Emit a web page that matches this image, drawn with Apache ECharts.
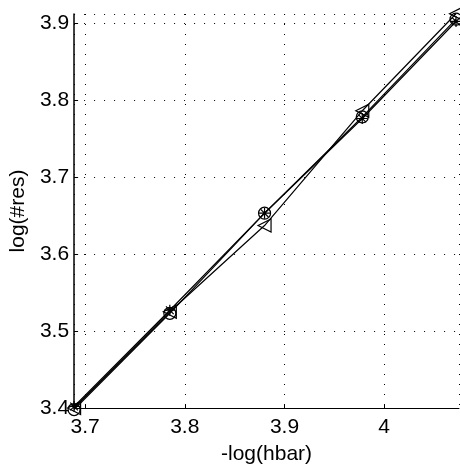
<!DOCTYPE html>
<html>
<head>
<meta charset="utf-8">
<script src="https://cdn.jsdelivr.net/npm/echarts@6/dist/echarts.min.js"></script>
<style>
  html, body { margin: 0; padding: 0; background: #fff; }
  #chart { width: 460px; height: 475px; }
</style>
</head>
<body>
<div id="chart"></div>
<script>
// -log(hbar) sample positions
const xValues = [3.689, 3.785, 3.880, 3.978, 4.072];

// log(#res) for each run
const circleRun   = [3.398, 3.523, 3.653, 3.778, 3.905];
const asteriskRun = [3.402, 3.527, 3.653, 3.776, 3.902];
const triangleRun = [3.400, 3.525, 3.637, 3.786, 3.912];

const xRange = [3.689, 4.075];
const yRange = [3.4, 3.9117];

const FONT = 'Liberation Sans, Arial, Helvetica, sans-serif';

const asteriskPath = 'path://M0,5L10,5M5,0L5,10M1.5,1.5L8.5,8.5M8.5,1.5L1.5,8.5';
const trianglePath = 'path://M0,5L10,0L10,10Z';

function pairs(ys) { return xValues.map((x, i) => [x, ys[i]]); }

function run(name, ys, symbol, size) {
  return {
    name: name,
    type: 'line',
    data: pairs(ys),
    symbol: symbol,
    symbolSize: size,
    showAllSymbol: true,
    clip: false,
    lineStyle: { color: '#000', width: 1.2 },
    itemStyle: { color: 'none', borderColor: '#000', borderWidth: 1.2 },
    animation: false
  };
}

const dotted = { color: '#000', width: 1, type: [1, 9] };

const chart = echarts.init(document.getElementById('chart'), null, { renderer: 'canvas' });
chart.setOption({
  backgroundColor: '#fff',
  animation: false,
  grid: { left: 73, right: 1, top: 14, bottom: 67, containLabel: false },
  xAxis: {
    type: 'value',
    min: xRange[0],
    max: xRange[1],
    splitNumber: 4,
    name: '-log(hbar)',
    nameLocation: 'middle',
    nameGap: 36,
    nameTextStyle: { color: '#000', fontFamily: FONT, fontSize: 21 },
    axisLine: { show: true, lineStyle: { color: '#000', width: 1 } },
    axisTick: { show: true, inside: true, length: 4, lineStyle: { color: '#000' } },
    axisLabel: { color: '#000', fontFamily: FONT, fontSize: 21, margin: 9,
                 showMinLabel: false, showMaxLabel: false },
    splitLine: { show: true, lineStyle: dotted }
  },
  yAxis: {
    type: 'value',
    min: yRange[0],
    max: yRange[1],
    interval: 0.1,
    name: 'log(#res)',
    nameLocation: 'middle',
    nameGap: 44,
    nameTextStyle: { color: '#000', fontFamily: FONT, fontSize: 21 },
    axisLine: { show: true, lineStyle: { color: '#000', width: 1.5 } },
    axisTick: { show: true, inside: true, length: 4, lineStyle: { color: '#000' } },
    axisLabel: { color: '#000', fontFamily: FONT, fontSize: 21, margin: 5,
                 showMaxLabel: false, formatter: v => (Math.round(v * 10) / 10).toFixed(1) },
    splitLine: { show: true, lineStyle: dotted }
  },
  series: [
    run('o', circleRun, 'circle', 12),
    run('*', asteriskRun, asteriskPath, 11),
    run('<', triangleRun, trianglePath, 13)
  ]
});
</script>
</body>
</html>
